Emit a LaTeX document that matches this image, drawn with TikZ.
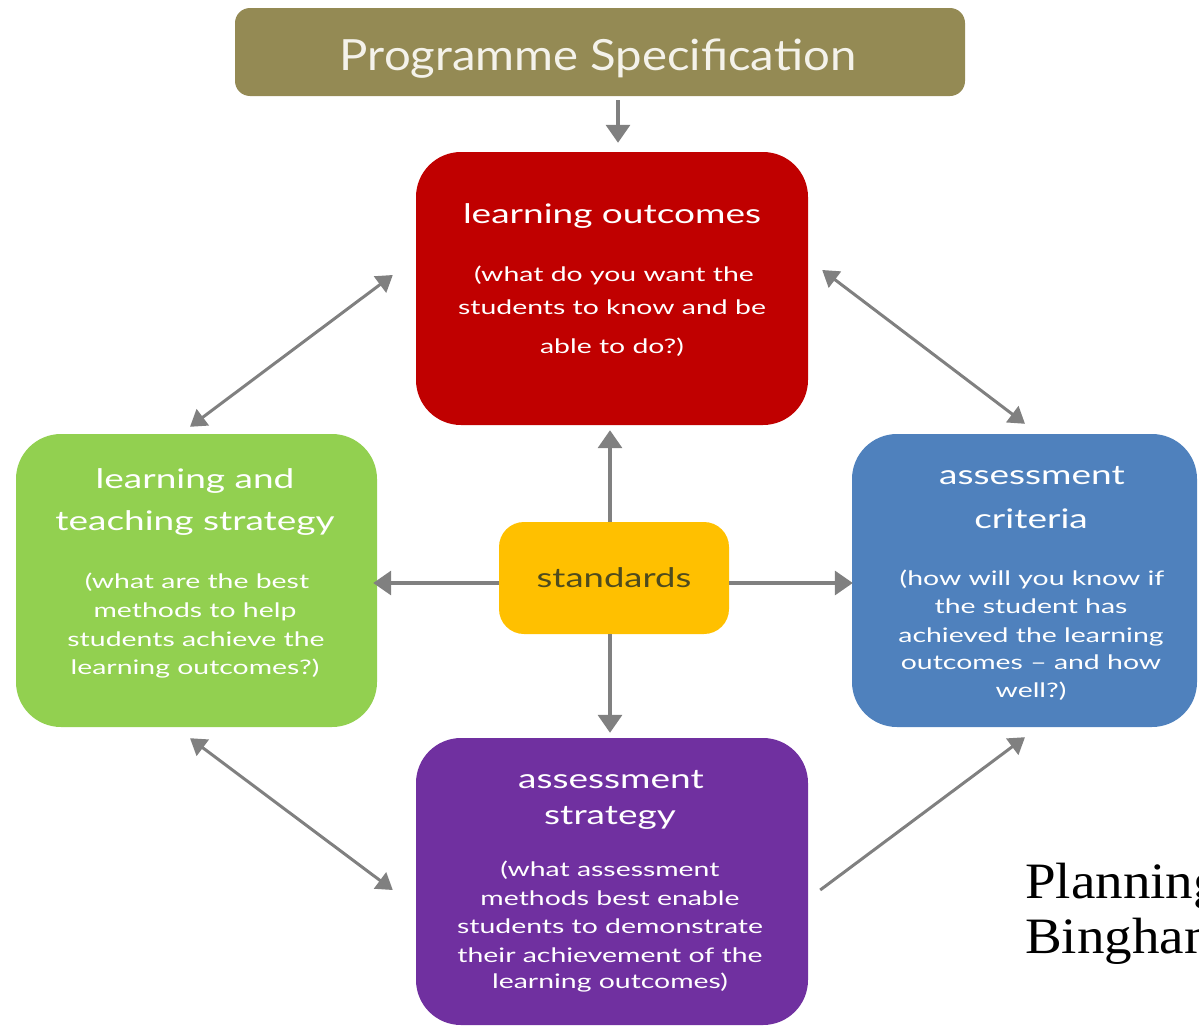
\documentclass[tikz,border=0pt]{standalone}
\usepackage{fontspec}
\usepackage{graphicx}
\setmainfont{Lato}
\newfontfamily\notefont{Liberation Serif}
\usetikzlibrary{arrows.meta,calc}

\definecolor{psolive}{HTML}{948A54}
\definecolor{lored}{HTML}{C00000}
\definecolor{ltgreen}{HTML}{92D050}
\definecolor{acblue}{HTML}{4F81BD}
\definecolor{aspurple}{HTML}{7030A0}
\definecolor{stdyellow}{HTML}{FFC000}
\definecolor{stdtext}{HTML}{4E4B1E}
\definecolor{arrgray}{HTML}{808080}
\definecolor{pstext}{HTML}{F4F2EA}

% horizontally widened text
\newcommand{\wide}[2]{\scalebox{#1}[1]{#2}}

\tikzset{
  panel/.style={rounded corners=45pt, inner sep=0pt, draw=none},
  ttl/.style={anchor=base, inner sep=0pt, text=white, font=\fontsize{27}{30}\selectfont},
  sub/.style={anchor=base, inner sep=0pt, text=white, font=\fontsize{20}{24}\selectfont},
  arr/.style={draw=arrgray, line width=3.5pt, -{Triangle[length=18pt,width=24pt]}},
  darr/.style={draw=arrgray, line width=3pt, {Triangle[length=16pt,width=20pt]}-{Triangle[length=16pt,width=20pt]}},
  sarr/.style={draw=arrgray, line width=3pt, -{Triangle[length=16pt,width=20pt]}},
  note/.style={anchor=base west, inner sep=0pt, text=black, font=\notefont\fontsize{51}{55}\selectfont}
}

\begin{document}
\begin{tikzpicture}[x=1pt,y=-1pt]
\useasboundingbox (0,0) rectangle (1199,1028);
\clip (0,0) rectangle (1199,1028);

% boxes
\node[panel, rounded corners=15pt, fill=psolive, minimum width=730pt, minimum height=88pt] (ps) at (600,52) {};
\node[panel, fill=lored, minimum width=392pt, minimum height=273pt] (lo) at (612,288.5) {};
\node[panel, fill=ltgreen, minimum width=361pt, minimum height=293pt] (lt) at (196.5,580.5) {};
\node[panel, fill=acblue, minimum width=345pt, minimum height=293pt] (ac) at (1024.5,580.5) {};
\node[panel, fill=aspurple, minimum width=392pt, minimum height=287pt] (as) at (612,881.5) {};
\node[panel, rounded corners=25pt, fill=stdyellow, minimum width=230pt, minimum height=112pt] (std) at (614,578) {};

% box texts
\node[anchor=base, inner sep=0pt, text=pstext, font=\fontsize{43}{48}\selectfont] (ps-t) at (598,70) {\wide{1.1}{Programme Specification}};

\node[ttl] (lo-t) at (612,223) {\wide{1.37}{learning outcomes}};
\node[sub] (lo-1) at (614,281) {\wide{1.42}{(what do you want the}};
\node[sub] (lo-2) at (612,314) {\wide{1.42}{students to know and be}};
\node[sub] (lo-3) at (612,353) {\wide{1.42}{able to do?)}};

\node[ttl] (lt-t1) at (195,488) {\wide{1.37}{learning and}};
\node[ttl] (lt-t2) at (195,530) {\wide{1.37}{teaching strategy}};
\node[sub] (lt-1) at (197,588) {\wide{1.42}{(what are the best}};
\node[sub] (lt-2) at (195,617) {\wide{1.42}{methods to help}};
\node[sub] (lt-3) at (196,646) {\wide{1.42}{students achieve the}};
\node[sub] (lt-4) at (195,674) {\wide{1.42}{learning outcomes?)}};

\node[ttl] (ac-t1) at (1032,484) {\wide{1.37}{assessment}};
\node[ttl] (ac-t2) at (1031,528) {\wide{1.37}{criteria}};
\node[sub] (ac-1) at (1032,585) {\wide{1.42}{(how will you know if}};
\node[sub] (ac-2) at (1031,613) {\wide{1.42}{the student has}};
\node[sub] (ac-3) at (1031,642) {\wide{1.42}{achieved the learning}};
\node[sub] (ac-4) at (1031,669) {\wide{1.42}{outcomes – and how}};
\node[sub] (ac-5) at (1031,697) {\wide{1.42}{well?)}};

\node[ttl] (as-t1) at (611,788) {\wide{1.37}{assessment}};
\node[ttl] (as-t2) at (610,824) {\wide{1.37}{strategy}};
\node[sub] (as-1) at (610,876) {\wide{1.42}{(what assessment}};
\node[sub] (as-2) at (610,905) {\wide{1.42}{methods best enable}};
\node[sub] (as-3) at (610,933) {\wide{1.42}{students to demonstrate}};
\node[sub] (as-4) at (610,962) {\wide{1.42}{their achievement of the}};
\node[sub] (as-5) at (610,988) {\wide{1.42}{learning outcomes)}};

\node[ttl, text=stdtext] (std-t) at (614,587) {\wide{1.35}{standards}};

% side note, running off the right edge
\node[note] (n1) at (1025,898) {\wide{1.08}{Planning}};
\node[note] (n2) at (1025,953) {\wide{1.08}{Bingham}};

% connectors
\draw[arr] ([xshift=18pt,yshift=-4pt]ps.south) -- ([xshift=6pt,yshift=9pt]lo.north);
\draw[arr] ([xshift=-4pt]std.north) -- ([xshift=-2pt,yshift=-5pt]lo.south);
\draw[arr] ([xshift=-4pt]std.south) -- ([xshift=-2pt,yshift=5pt]as.north);
\draw[arr] ([yshift=-5pt]std.west) -- ([xshift=-4pt,yshift=-2.5pt]lt.east);
\draw[arr] ([yshift=-5pt]std.east) -- ([xshift=1pt,yshift=-2.5pt]ac.west);

\draw[darr] ($(lo.west)+(-23,-13.5)$) -- ($(lt.north)+(-6.5,-7)$);
\draw[darr] ($(lo.east)+(14,-18.5)$) -- ($(ac.north)+(0.5,-10)$);
\draw[darr] ($(lt.south)+(-6.5,11)$) -- ($(as.west)+(-23,8.5)$);
\draw[sarr] ($(as.east)+(12,8.5)$) -- ($(ac.south)+(0.5,10)$);
\end{tikzpicture}
\end{document}
